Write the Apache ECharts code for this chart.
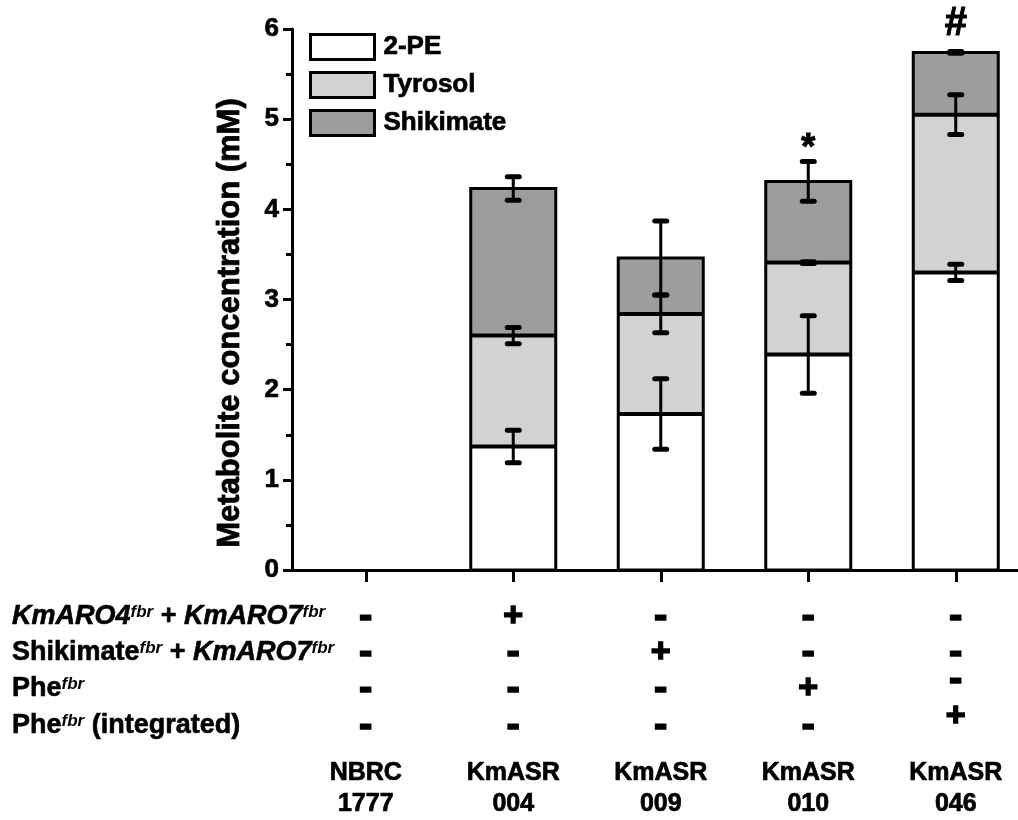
<!DOCTYPE html>
<html>
<head>
<meta charset="utf-8">
<script src="https://cdn.jsdelivr.net/npm/echarts@6/dist/echarts.min.js"></script>
<style>
  html, body { margin: 0; padding: 0; background: #fff; }
  #chart { width: 1018px; height: 820px; }
</style>
</head>
<body>
<div id="chart"></div>
<script>
// strains on the x axis
const strains = ['NBRC\n1777', 'KmASR\n004', 'KmASR\n009', 'KmASR\n010', 'KmASR\n046'];
const strainPos = [0, 1, 2, 3, 4];
// stacked metabolite values (mM)
const pe = [0, 1.37, 1.73, 2.39, 3.30];
const tyrosol = [0, 1.23, 1.11, 1.02, 1.75];
const shikimate = [0, 1.63, 0.62, 0.90, 0.69];
// error bars (+/-)
const peErr = [0, 0.18, 0.39, 0.43, 0.09];
const tyrosolErr = [0, 0.09, 0.21, 0.01, 0.22];
const shikimateErr = [0, 0.13, 0.41, 0.22, 0.01];
// significance marks above the bars
const signif = ['', '', '', '*', '#'];
// genotype table under the axis
const rowLabels = [
  '{it|KmARO4}{sup|fbr}{b| + }{it|KmARO7}{sup|fbr}',
  '{b|Shikimate}{sup|fbr}{b| + }{it|KmARO7}{sup|fbr}',
  '{b|Phe}{sup|fbr}',
  '{b|Phe}{sup|fbr}{b| (integrated)}'
];
const rowMarks = [
  ['-', '+', '-', '-', '-'],
  ['-', '-', '+', '-', '-'],
  ['-', '-', '-', '+', '-'],
  ['-', '-', '-', '-', '+']
];

const FONT = "'Liberation Sans', Arial, sans-serif";
const BAR_W = 85;
const rowY = [617, 653, 689, 726];
const markLift = { '*': 12, '#': 28 };
const markSize = { '*': 36, '#': 40 };

// cumulative tops of the stacked segments
const peTop = pe.slice();
const tyrTop = pe.map((v, i) => v + tyrosol[i]);
const shikTop = tyrTop.map((v, i) => v + shikimate[i]);

function errorSeries(name, tops, errs, marks) {
  return {
    type: 'custom',
    name: name,
    z: 10,
    data: tops.map((v, i) => [strainPos[i], v, errs[i]]),
    renderItem: function (params, api) {
      const x = api.value(0), top = api.value(1), e = api.value(2);
      const children = [];
      if (e) {
        const hi = api.coord([x, top + e]);
        const lo = api.coord([x, top - e]);
        const w = 6;
        children.push(
          { type: 'line', shape: { x1: hi[0], y1: hi[1], x2: lo[0], y2: lo[1] }, style: { stroke: '#000', lineWidth: 3 } },
          { type: 'line', shape: { x1: hi[0] - w, y1: hi[1], x2: hi[0] + w, y2: hi[1] }, style: { stroke: '#000', lineWidth: 5, lineCap: 'round' } },
          { type: 'line', shape: { x1: lo[0] - w, y1: lo[1], x2: lo[0] + w, y2: lo[1] }, style: { stroke: '#000', lineWidth: 5, lineCap: 'round' } }
        );
        if (marks && marks[params.dataIndex]) {
          const m = marks[params.dataIndex];
          children.push({
            type: 'text',
            style: {
              text: m, x: hi[0], y: hi[1] - markLift[m],
              align: 'center', verticalAlign: 'middle',
              fontFamily: FONT, fontWeight: 'bold', fontSize: markSize[m],
              fill: '#000', stroke: '#000', lineWidth: 1
            }
          });
        }
      }
      return { type: 'group', children: children };
    }
  };
}

// black outline of each stacked column, with the segment boundaries
const outlineSeries = {
  type: 'custom',
  name: 'outline',
  z: 5,
  data: pe.map((v, i) => [strainPos[i], peTop[i], tyrTop[i], shikTop[i]]),
  renderItem: function (params, api) {
    const x = api.value(0);
    const total = api.value(3);
    if (!total) return;
    const b = api.coord([x, 0]);
    const t = api.coord([x, total]);
    const h = BAR_W / 2;
    const children = [{
      type: 'rect',
      shape: { x: b[0] - h, y: t[1], width: BAR_W, height: b[1] - t[1] },
      style: { fill: 'none', stroke: '#000', lineWidth: 3 }
    }];
    [api.value(1), api.value(2)].forEach(v => {
      const p = api.coord([x, v]);
      children.push({
        type: 'line',
        shape: { x1: p[0] - h, y1: p[1], x2: p[0] + h, y2: p[1] },
        style: { stroke: '#000', lineWidth: 4 }
      });
    });
    return { type: 'group', children: children };
  }
};

// each segment is drawn as a bar up to its cumulative top, lower segments on top
function barSeries(name, tops, color) {
  return {
    name: name,
    type: 'bar',
    barWidth: BAR_W,
    barGap: '-100%',
    data: tops.map((v, i) => [strainPos[i], v]),
    itemStyle: { color: color, borderWidth: 0 }
  };
}

const boldText = { color: '#000', fontFamily: FONT, fontWeight: 'bold', textBorderColor: '#000', textBorderWidth: 0.7 };

const myChart = echarts.init(document.getElementById('chart'));
myChart.setOption({
  animation: false,
  backgroundColor: '#fff',
  grid: { left: 292, top: 29, height: 547, right: 0 },
  legend: {
    orient: 'vertical',
    left: 309,
    top: 33,
    padding: 0,
    itemWidth: 64,
    itemHeight: 25,
    itemGap: 10,
    icon: 'rect',
    data: ['2-PE', 'Tyrosol', 'Shikimate'],
    itemStyle: { borderColor: '#000', borderWidth: 3 },
    textStyle: Object.assign({ fontSize: 26, padding: [0, 0, 0, 4] }, boldText)
  },
  xAxis: {
    type: 'value',
    min: -0.5,
    max: 4.422,
    splitLine: { show: false },
    axisLine: { onZero: false, lineStyle: { color: '#000', width: 3 } },
    axisTick: { customValues: strainPos, length: 12, lineStyle: { color: '#000', width: 3 } },
    axisLabel: Object.assign({
      customValues: strainPos, margin: 188, fontSize: 25, lineHeight: 31,
      formatter: v => strains[Math.round(v)]
    }, boldText)
  },
  yAxis: {
    type: 'value',
    min: 0,
    max: 6,
    interval: 1,
    splitLine: { show: false },
    axisLine: { show: true, onZero: false, lineStyle: { color: '#000', width: 3 } },
    axisTick: { show: true, length: 9, lineStyle: { color: '#000', width: 3 } },
    minorTick: { show: true, splitNumber: 2, length: 6, lineStyle: { color: '#000', width: 3 } },
    axisLabel: Object.assign({ margin: 13, fontSize: 26 }, boldText)
  },
  series: [
    barSeries('Shikimate', shikTop, '#9c9e9d'),
    barSeries('Tyrosol', tyrTop, '#d1d3d2'),
    barSeries('2-PE', peTop, '#ffffff'),
    outlineSeries,
    errorSeries('2-PE err', peTop, peErr),
    errorSeries('Tyrosol err', tyrTop, tyrosolErr),
    errorSeries('Shikimate err', shikTop, shikimateErr, signif)
  ]
});

// y axis title and genotype table
const graphics = [{
  type: 'text',
  x: 230, y: 323, rotation: Math.PI / 2,
  style: {
    text: 'Metabolite concentration (mM)', align: 'center', verticalAlign: 'middle',
    fontFamily: FONT, fontWeight: 'bold', fontSize: 31,
    fill: '#000', stroke: '#000', lineWidth: 0.8
  }
}];
const rich = {
  b: { fontFamily: FONT, fontWeight: 'bold', fontSize: 27, fill: '#000', stroke: '#000', lineWidth: 0.6 },
  it: { fontFamily: FONT, fontWeight: 'bold', fontStyle: 'italic', fontSize: 27, fill: '#000', stroke: '#000', lineWidth: 0.6 },
  sup: { fontFamily: FONT, fontWeight: 'bold', fontStyle: 'italic', fontSize: 17, fill: '#000', verticalAlign: 'top' }
};
rowLabels.forEach((lab, r) => {
  graphics.push({
    type: 'text', x: 12, y: rowY[r],
    style: { text: lab, rich: rich, align: 'left', verticalAlign: 'middle' }
  });
  rowMarks[r].forEach((m, c) => {
    const x = myChart.convertToPixel({ xAxisIndex: 0 }, strainPos[c]);
    const lift = (c === 4 && r >= 2) ? 9 : 0;
    graphics.push({
      type: 'text', x: x, y: rowY[r] - lift,
      style: {
        text: m, align: 'center', verticalAlign: 'middle',
        fontFamily: FONT, fontWeight: 'bold', fontSize: m === '-' ? 40 : 34,
        fill: '#000', stroke: '#000', lineWidth: 1.5
      }
    });
  });
});
myChart.setOption({ graphic: graphics });
</script>
</body>
</html>
